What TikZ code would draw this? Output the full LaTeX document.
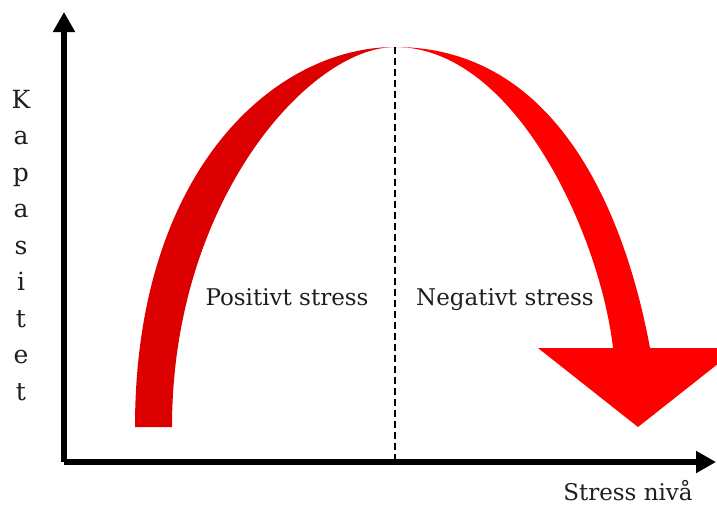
\documentclass[tikz,border=0pt]{standalone}
\usepackage{fontspec}
\setmainfont{DejaVu Serif}
\usepackage{tikz}
\usetikzlibrary{arrows.meta}
\usepackage{xcolor}
\definecolor{curveleft}{RGB}{220,0,0}
\definecolor{curveright}{RGB}{255,0,0}
\definecolor{labelgray}{RGB}{30,30,30}

\begin{document}
\begin{tikzpicture}[x=1pt, y=-1pt,
    axis/.style={line width=5.5pt, line join=miter, -{Triangle[length=20pt, width=21pt]}},
    lbl/.style={anchor=base, text=labelgray, font=\fontsize{23}{27}\selectfont, inner sep=0pt}]
  \useasboundingbox (0,0) rectangle (717,504);
  \coordinate (origin) at (64,462);
  \coordinate (ytop) at (64,12);
  \coordinate (xend) at (716,462);
  \coordinate (peak) at (395,47);
  \coordinate (base) at (395,460);
  % Curve: rising part and falling arrow
  \fill[curveleft] (135,427) .. controls (135,170) and (275,47) .. (peak)
    .. controls (310,47) and (172,200) .. (172,427) -- cycle;
  \fill[curveright] (peak) .. controls (570,47) and (630,240) .. (650,348)
    -- (738,348) -- (638,427) -- (538,348) -- (613,348)
    .. controls (600,235) and (515,47) .. (peak) -- cycle;
  \draw[line width=2.2pt, dash pattern=on 7pt off 4pt] (peak) -- (base);
  % Axes
  \draw[axis] (origin) -- (ytop);
  \draw[axis] (origin) -- (xend);
  \node[lbl] (niva) at (628,500) {Stress nivå};
  \foreach \ch [count=\i] in {K,a,p,a,s,i,t,e,t}
    \node[lbl, font=\fontsize{25}{29}\selectfont] (kap\i) at (21,{108+36.5*(\i-1)}) {\ch};
  % Regions
  \node[lbl] (pos) at (287,305) {Positivt stress};
  \node[lbl] (neg) at (505,305) {Negativt stress};
\end{tikzpicture}
\end{document}
